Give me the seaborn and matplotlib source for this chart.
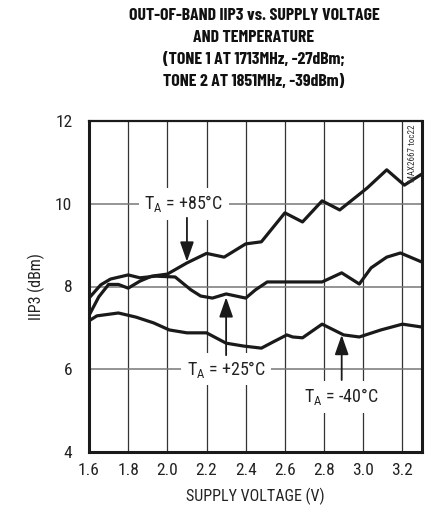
import matplotlib
matplotlib.use("Agg")
import matplotlib.pyplot as plt
import seaborn as sns
import pandas as pd

# ---- data ----
v_85 = [1.60, 1.65, 1.70, 1.75, 1.80, 1.86, 1.92, 2.00, 2.10, 2.20, 2.29, 2.40, 2.48,
        2.60, 2.69, 2.79, 2.88, 3.02, 3.12, 3.21, 3.30]
iip3_85 = [7.30, 7.75, 8.05, 8.05, 7.96, 8.13, 8.25, 8.30, 8.57, 8.80, 8.71, 9.03, 9.08,
           9.78, 9.56, 10.07, 9.85, 10.38, 10.82, 10.45, 10.72]

v_25 = [1.60, 1.66, 1.71, 1.80, 1.86, 1.94, 2.04, 2.12, 2.17, 2.23, 2.30, 2.40, 2.45,
        2.51, 2.79, 2.89, 2.98, 3.04, 3.12, 3.19, 3.30]
iip3_25 = [7.72, 8.04, 8.18, 8.28, 8.21, 8.25, 8.23, 7.92, 7.77, 7.72, 7.82, 7.72, 7.92,
           8.11, 8.11, 8.33, 8.06, 8.45, 8.71, 8.81, 8.59]

v_m40 = [1.60, 1.64, 1.75, 1.84, 1.93, 2.01, 2.10, 2.20, 2.30, 2.39, 2.48, 2.54, 2.61,
         2.64, 2.69, 2.79, 2.90, 2.98, 3.09, 3.20, 3.30]
iip3_m40 = [7.17, 7.29, 7.36, 7.26, 7.12, 6.95, 6.88, 6.88, 6.63, 6.56, 6.51, 6.66, 6.83,
            6.78, 6.76, 7.09, 6.83, 6.78, 6.95, 7.09, 7.02]

x_ticks = [1.6, 1.8, 2.0, 2.2, 2.4, 2.6, 2.8, 3.0, 3.2]
x_tick_labels = ["1.6", "1.8", "2.0", "2.2", "2.4", "2.6", "2.8", "3.0", "3.2"]
y_ticks = [4, 6, 8, 10, 12]
y_tick_labels = ["4", "6", "8", "10", "12"]

title_lines = ["OUT-OF-BAND IIP3 vs. SUPPLY VOLTAGE",
               "AND TEMPERATURE",
               "(TONE 1 AT 1713MHz, -27dBm;",
               "TONE 2 AT 1851MHz, -39dBm)"]

df = pd.concat([
    pd.DataFrame({"v": v_85, "iip3": iip3_85, "temp": "+85"}),
    pd.DataFrame({"v": v_25, "iip3": iip3_25, "temp": "+25"}),
    pd.DataFrame({"v": v_m40, "iip3": iip3_m40, "temp": "-40"}),
])

# ---- style ----
sns.set_style("white")
FONT = ["Roboto Condensed", "Archivo Narrow", "DejaVu Sans"]
TITLE_FONT = ["Barlow Condensed", "Roboto Condensed", "DejaVu Sans"]
plt.rcParams["font.family"] = FONT

fig = plt.figure(figsize=(4.48, 5.15), dpi=100)
ax = fig.add_axes([89 / 448, 1 - 452 / 515, 333 / 448, 331 / 515])

sns.lineplot(data=df, x="v", y="iip3", hue="temp", units="temp", estimator=None,
             sort=False, palette=["#1a1a1a"] * 3, linewidth=2.3, legend=False, ax=ax,
             zorder=3)
for ln in ax.get_lines():
    ln.set_solid_joinstyle("round")
    ln.set_solid_capstyle("round")

ax.set_xlim(1.6, 3.3)
ax.set_ylim(4, 12)
ax.set_xticks(x_ticks)
ax.set_xticklabels(x_tick_labels)
ax.set_yticks(y_ticks)
ax.set_yticklabels(y_tick_labels)
ax.tick_params(axis="both", length=0, labelsize=12.5, colors="#222222")
ax.tick_params(axis="x", pad=8)
ax.tick_params(axis="y", pad=12)

ax.xaxis.grid(True, color="#333333", linewidth=0.9)
ax.yaxis.grid(True, color="#777777", linewidth=1.1)
ax.set_axisbelow(True)

for side in ["left", "bottom", "right"]:
    ax.spines[side].set_linewidth(2.2)
    ax.spines[side].set_color("#1a1a1a")
ax.spines["top"].set_linewidth(1.6)
ax.spines["top"].set_color("#1a1a1a")

ax.set_xlabel("SUPPLY VOLTAGE (V)", fontsize=11.5, color="#222222")
ax.set_ylabel("IIP3 (dBm)", fontsize=11.5, color="#222222")
ax.xaxis.set_label_coords(0.5, (452 - 496) / 331)
ax.xaxis.label.set_va("center")
ax.yaxis.set_label_coords((36 - 89) / 333, 0.5)
ax.yaxis.label.set_va("center")

# ---- annotations ----
box = dict(facecolor="white", edgecolor="none", pad=4)
arrow = dict(arrowstyle="-|>,head_length=1.0,head_width=0.35", color="#1a1a1a",
             lw=1.3, shrinkA=0, shrinkB=0, mutation_scale=12)

ax.text(2.085, 10.0, r"T$_\mathregular{A}$ = +85°C", ha="center", va="center",
        fontsize=13, color="#222222", bbox=box, zorder=4)
ax.annotate("", xy=(2.10, 8.60), xytext=(2.10, 9.66), arrowprops=arrow, zorder=4)

ax.text(2.30, 6.0, r"T$_\mathregular{A}$ = +25°C", ha="center", va="center",
        fontsize=13, color="#222222", bbox=box, zorder=4)
ax.annotate("", xy=(2.30, 7.74), xytext=(2.30, 6.34), arrowprops=arrow, zorder=4)

ax.text(2.89, 5.33, r"T$_\mathregular{A}$ = -40°C", ha="center", va="center",
        fontsize=13, color="#222222", bbox=box, zorder=4)
ax.annotate("", xy=(2.89, 6.83), xytext=(2.89, 5.74), arrowprops=arrow, zorder=4)

ax.text(0.972, 0.99, "MAX2667 toc22", rotation=90, ha="center", va="top",
        fontsize=6.5, color="#333333", transform=ax.transAxes, zorder=4)

# ---- title ----
for i, line in enumerate(title_lines):
    fig.text(254 / 448, 1 - (15 + 22 * i) / 515, line, ha="center", va="center",
             fontsize=12.8, fontweight="bold", color="#111111", family=TITLE_FONT)

fig.savefig("out.png", dpi=100)
